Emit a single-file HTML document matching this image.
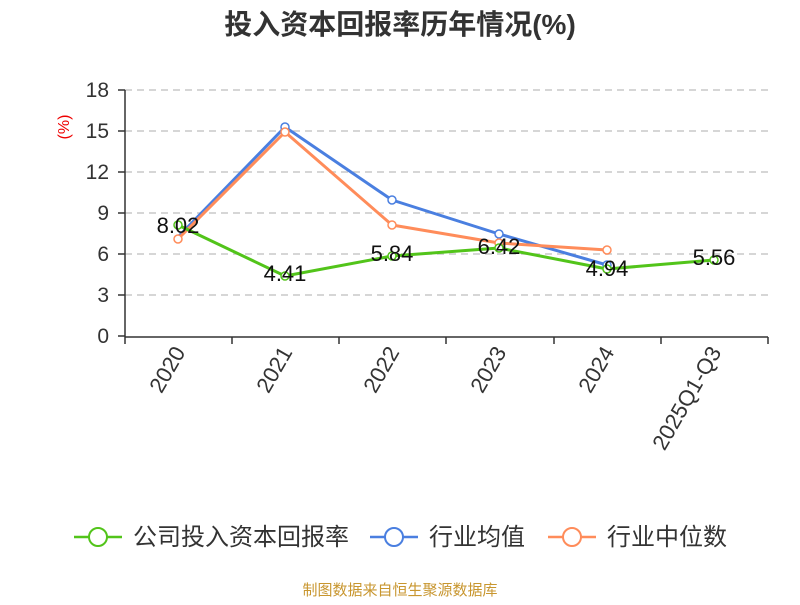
<!DOCTYPE html>
<html><head><meta charset="utf-8"><style>
body{margin:0;background:#fff;}
svg text{font-family:"Liberation Sans","Noto Sans CJK SC",sans-serif;}
</style></head><body>
<svg width="800" height="600" viewBox="0 0 800 600">
<text x="400" y="34" text-anchor="middle" font-size="28" font-weight="bold" fill="#333">投入资本回报率历年情况(%)</text>
<g stroke="#c8c8c8" stroke-width="1.5" stroke-dasharray="7,5">
<line x1="125" y1="90" x2="768" y2="90"/><line x1="125" y1="131" x2="768" y2="131"/><line x1="125" y1="172" x2="768" y2="172"/><line x1="125" y1="213" x2="768" y2="213"/><line x1="125" y1="254" x2="768" y2="254"/><line x1="125" y1="295" x2="768" y2="295"/>
</g>
<g stroke="#333" stroke-width="1.5">
<line x1="125" y1="90" x2="125" y2="337"/><line x1="125" y1="337" x2="768" y2="337"/>
<line x1="118" y1="90" x2="125" y2="90"/><line x1="118" y1="131" x2="125" y2="131"/><line x1="118" y1="172" x2="125" y2="172"/><line x1="118" y1="213" x2="125" y2="213"/><line x1="118" y1="254" x2="125" y2="254"/><line x1="118" y1="295" x2="125" y2="295"/><line x1="118" y1="336" x2="125" y2="336"/>
<line x1="125" y1="337" x2="125" y2="344"/><line x1="232" y1="337" x2="232" y2="344"/><line x1="339" y1="337" x2="339" y2="344"/><line x1="446" y1="337" x2="446" y2="344"/><line x1="554" y1="337" x2="554" y2="344"/><line x1="661" y1="337" x2="661" y2="344"/><line x1="768" y1="337" x2="768" y2="344"/>
</g>
<g font-size="21" fill="#333" text-anchor="end">
<text x="109" y="97">18</text><text x="109" y="138">15</text><text x="109" y="179">12</text><text x="109" y="220">9</text><text x="109" y="261">6</text><text x="109" y="302">3</text><text x="109" y="343">0</text>
</g>
<text transform="translate(69,127) rotate(-90)" font-size="16" fill="#e00" text-anchor="middle">(%)</text>
<g font-size="22" fill="#333" text-anchor="end">
<text transform="translate(186,352) rotate(-60)">2020</text>
<text transform="translate(293,352) rotate(-60)">2021</text>
<text transform="translate(400,352) rotate(-60)">2022</text>
<text transform="translate(507,352) rotate(-60)">2023</text>
<text transform="translate(615,352) rotate(-60)">2024</text>
<text transform="translate(722,352) rotate(-60)">2025Q1-Q3</text>
</g>
<g fill="none" stroke-width="3" stroke-linejoin="round">
<polyline stroke="#4a7fe0" points="178,237 285,127 392,200 499,234 607,265"/>
<polyline stroke="#ff8c5a" points="178,239 285,132 392,225 499,243 607,250"/>
<polyline stroke="#52c41a" points="178,225 285,276 392,256 499,248 607,269 714,260"/>
</g>
<g fill="#fff" stroke-width="1.5">
<g stroke="#4a7fe0"><circle cx="285" cy="127" r="4"/><circle cx="392" cy="200" r="4"/><circle cx="499" cy="234" r="4"/><circle cx="607" cy="265" r="4"/></g>
<g stroke="#ff8c5a"><circle cx="178" cy="239" r="4"/><circle cx="285" cy="132" r="4"/><circle cx="392" cy="225" r="4"/><circle cx="499" cy="243" r="4"/><circle cx="607" cy="250" r="4"/></g>
<g stroke="#52c41a"><circle cx="178" cy="225" r="4"/><circle cx="285" cy="276" r="4"/><circle cx="392" cy="256" r="4"/><circle cx="499" cy="248" r="4"/><circle cx="607" cy="269" r="4"/><circle cx="714" cy="260" r="4"/></g>
</g>
<g font-size="22" fill="#111" text-anchor="middle">
<text x="178" y="233">8.02</text><text x="285" y="281">4.41</text><text x="392" y="261">5.84</text><text x="499" y="254">6.42</text><text x="607" y="276">4.94</text><text x="714" y="265">5.56</text>
</g>
<g font-size="24" fill="#333" stroke-width="2.5">
<line x1="74" y1="537" x2="122" y2="537" stroke="#52c41a"/><circle cx="98" cy="537" r="9" fill="#fff" stroke="#52c41a" stroke-width="2"/>
<text x="133" y="545">公司投入资本回报率</text>
<line x1="370" y1="537" x2="418" y2="537" stroke="#4a7fe0"/><circle cx="394" cy="537" r="9" fill="#fff" stroke="#4a7fe0" stroke-width="2"/>
<text x="429" y="545">行业均值</text>
<line x1="548" y1="537" x2="596" y2="537" stroke="#ff8c5a"/><circle cx="572" cy="537" r="9" fill="#fff" stroke="#ff8c5a" stroke-width="2"/>
<text x="607" y="545">行业中位数</text>
</g>
<text x="400" y="595" text-anchor="middle" font-size="15" fill="#c8962f">制图数据来自恒生聚源数据库</text>
</svg>
</body></html>
